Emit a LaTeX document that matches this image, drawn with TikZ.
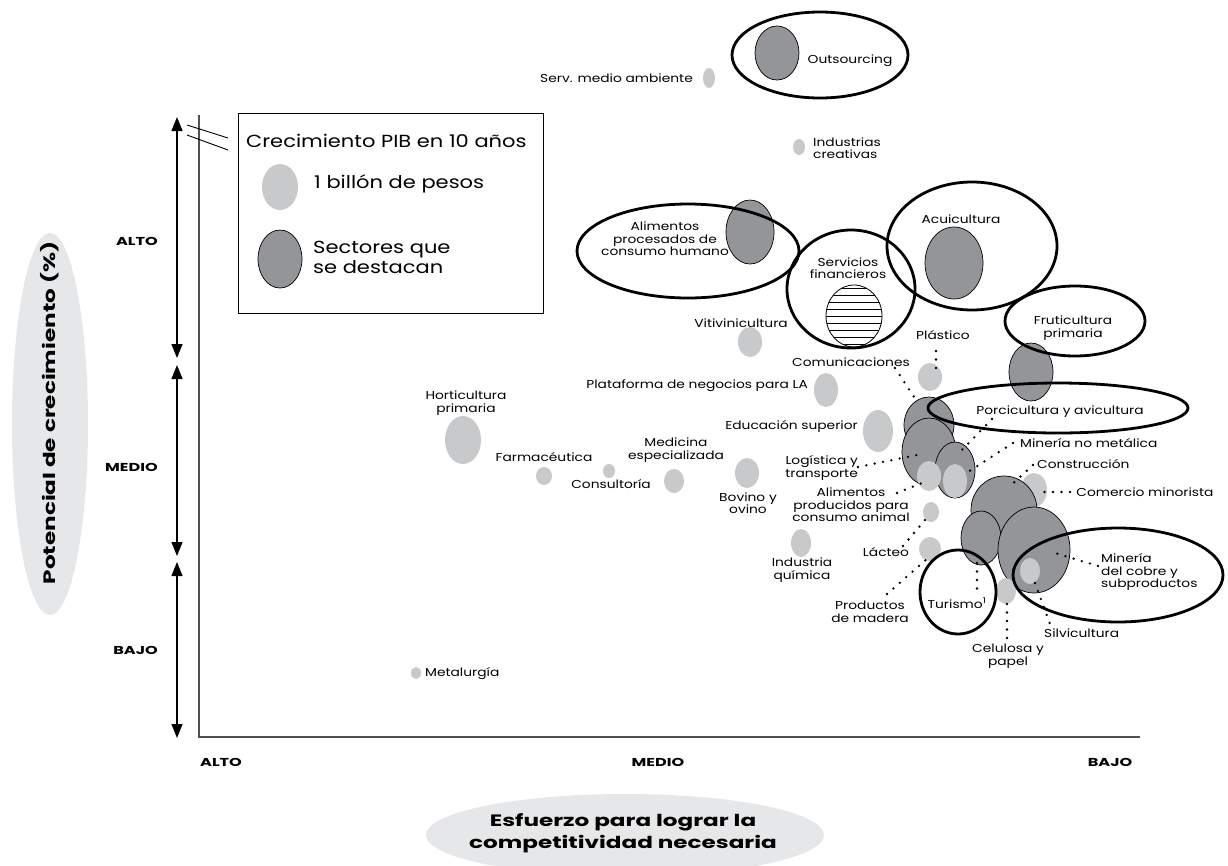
\documentclass[tikz,border=0pt]{standalone}
\usepackage{fontspec}
\setmainfont[FakeStretch=1.2]{Poppins}
\newfontfamily\widefont[FakeStretch=1.4]{Poppins}
\usetikzlibrary{shapes.geometric,arrows.meta}
\definecolor{lightg}{RGB}{200,201,203}
\definecolor{darkg}{RGB}{147,149,152}
\definecolor{paleg}{RGB}{230,231,232}
\definecolor{axisg}{RGB}{80,80,80}
\tikzset{
 lb/.style={ellipse, fill=lightg, draw=none, inner sep=0pt},
 db/.style={ellipse, fill=darkg, draw=black, line width=0.7pt, inner sep=0pt},
 ring/.style={ellipse, draw=black, line width=2.8pt, inner sep=0pt},
 hatchb/.style={ellipse, fill=white, draw=black, line width=0.8pt, inner sep=0pt,
   path picture={\foreach \k in {-4,...,4}
     \draw[line width=0.7pt] ([yshift=\k*7pt]path picture bounding box.west) -- ([yshift=\k*7pt]path picture bounding box.east);}},
 lbl/.style={font=\fontsize{11.5}{12.5}\selectfont, inner sep=0pt, align=center},
 leg/.style={font=\fontsize{17.5}{20}\selectfont, inner sep=0pt, align=left},
 lead/.style={line width=2.6pt, line cap=round, dash pattern=on 0pt off 8.5pt, black},
 axlbl/.style={font=\widefont\bfseries\fontsize{11.5}{12}\selectfont, inner sep=0pt},
 ttl/.style={font=\widefont\bfseries\fontsize{16.5}{22}\selectfont, inner sep=0pt, align=center},
 dbl/.style={line width=1.2pt, black, {Triangle[length=14pt,width=11pt]}-{Triangle[length=14pt,width=11pt]}},
}
\newcommand\bub[6]{\node[#6, minimum width={2*#4pt}, minimum height={2*#5pt}] (#1) at (#2,#3) {};}
\begin{document}
\begin{tikzpicture}[x=1pt,y=-1pt]
\useasboundingbox (0,0) rectangle (1228,865);
% axis titles
\bub{yttl}{50}{424}{38}{191}{fill=paleg,ellipse,inner sep=0pt}
\node[ttl, rotate=90] (ytxt) at (50,413) {Potencial de crecimiento (\%)};
\bub{xttl}{625}{835}{199}{41}{fill=paleg,ellipse,inner sep=0pt}
\node[ttl] (xtxt) at (623,833) {Esfuerzo para lograr la\\competitividad necesaria};
% axes
\coordinate (axtop) at (199,115);
\coordinate (ax0) at (199,737);
\coordinate (axr) at (1140,737);
\draw[axisg, line width=1.3pt] (axtop) -- (ax0) -- (axr);
\coordinate (br1a) at (187,125); \coordinate (br1b) at (228,138);
\coordinate (br2a) at (187,135); \coordinate (br2b) at (228,150);
\draw[line width=0.9pt] (br1a) -- (br1b) (br2a) -- (br2b);
\coordinate (a1) at (177,117); \coordinate (a2) at (177,358);
\coordinate (a3) at (177,365); \coordinate (a4) at (177,556);
\coordinate (a5) at (177,562); \coordinate (a6) at (177,738);
\draw[dbl] (a1) -- (a2);
\draw[dbl] (a3) -- (a4);
\draw[dbl] (a5) -- (a6);
\node[axlbl, anchor=east] (yalto) at (158,241) {ALTO};
\node[axlbl, anchor=east] (ymedio) at (158,467) {MEDIO};
\node[axlbl, anchor=east] (ybajo) at (158,650) {BAJO};
\node[axlbl] (xalto) at (221,762) {ALTO};
\node[axlbl] (xmedio) at (658,762) {MEDIO};
\node[axlbl] (xbajo) at (1110,762) {BAJO};
% legend
\node[draw, line width=1pt, minimum width=305pt, minimum height=200pt, inner sep=0pt, anchor=north west] (legend) at (238,113) {};
\node[leg, anchor=west] (legt) at (246,141) {Crecimiento PIB en 10 años};
\bub{legL}{280}{187}{18}{23}{lb}
\bub{legD}{280}{259}{22}{29}{db}
\node[leg, anchor=west] (legLt) at (314,184) {1 billón de pesos};
\node[leg, anchor=west] (legDt) at (313,257) {Sectores que\\se destacan};
% light bubbles
\bub{serv}{709}{78}{6}{10}{lb}
\bub{indcre}{799}{147}{6}{8}{lb}
\bub{viti}{750}{342}{12}{15}{lb}
\bub{plast}{930}{377}{12}{14}{lb}
\bub{plat}{826}{390}{12}{17}{lb}
\bub{edu}{878}{431}{15}{21}{lb}
\bub{horti}{463}{440}{18}{24}{lb}
\bub{farma}{544}{476}{8}{9}{lb}
\bub{consult}{609}{471}{6}{7}{lb}
\bub{medic}{674}{481}{10}{12}{lb}
\bub{bovino}{747}{473}{12}{15}{lb}
\bub{indq}{801}{543}{10}{14}{lb}
\bub{metal}{416}{673}{5}{6}{lb}
\bub{alanim}{931}{512}{8}{10}{lb}
\bub{lacteo}{930}{549}{11}{12}{lb}
\bub{comerc}{1034}{490}{13}{17}{lb}
% dark bubbles
\bub{outs}{777}{53}{22}{27}{db}
\bub{alproc}{750}{232}{24}{32}{db}
\bub{acui}{954}{263}{29}{36}{db}
\bub{fruti}{1031}{372}{22}{29}{db}
\bub{porc}{929}{425}{25}{28}{db}
\bub{logis}{929}{452}{27}{34}{db}
\bub{minnm}{955}{470}{20}{28}{db}
\bub{constr}{1004}{510}{33}{34}{db}
\bub{turdk}{981}{538}{20}{27}{db}
\bub{cobre}{1034}{550}{36}{43}{db}
\bub{logL}{929}{476}{12}{15}{lb}
\bub{minL}{955}{481}{12}{17}{lb}
\bub{cobreL}{1030}{571}{10}{13}{lb}
\bub{celul}{1006}{591}{10}{13}{lb}
\bub{finan}{854}{316}{28}{31}{hatchb}
% rings
\bub{outsR}{820}{55}{88}{43}{ring}
\bub{alprocR}{688}{251}{111}{47}{ring}
\bub{servR}{851}{289}{64}{59}{ring}
\bub{acuiR}{972}{246}{85}{64}{ring}
\bub{frutiR}{1075}{321}{70}{35}{ring}
\bub{porcR}{1058}{408}{130}{25}{ring}
\bub{turR}{958}{592}{38}{42}{ring}
\bub{cobreR}{1118}{575}{105}{47}{ring}
% labels
\node[lbl, anchor=east] (tserv) at (693,78) {Serv. medio ambiente};
\node[lbl] (touts) at (850,61) {Outsourcing};
\node[lbl, anchor=west, align=left] (tindcre) at (813,148) {Industrias\\creativas};
\node[lbl] (talproc) at (665,239) {Alimentos\\procesados de\\consumo humano};
\node[lbl] (tfinan) at (848,268) {Servicios\\financieros};
\node[lbl] (tacui) at (961,219) {Acuicultura};
\node[lbl] (tfruti) at (1073,328) {Fruticultura\\primaria};
\node[lbl] (tviti) at (741,323) {Vitivinicultura};
\node[lbl] (tplast) at (943,335) {Plástico};
\node[lbl] (tcomun) at (851,362) {Comunicaciones};
\node[lbl, anchor=east] (tplat) at (808,386) {Plataforma de negocios para LA};
\node[lbl] (tporc) at (1060,412) {Porcicultura y avicultura};
\node[lbl, anchor=east] (tedu) at (858,426) {Educación superior};
\node[lbl] (thorti) at (466,403) {Horticultura\\primaria};
\node[lbl, anchor=west] (tminnm) at (1020,443) {Minería no metálica};
\node[lbl] (tmedic) at (676,450) {Medicina\\especializada};
\node[lbl] (tfarma) at (544,457) {Farmacéutica};
\node[lbl, anchor=east, align=right] (tlogis) at (858,468) {Logística y\\transporte};
\node[lbl, anchor=west] (tconstr) at (1037,464) {Construcción};
\node[lbl] (tconsult) at (611,484) {Consultoría};
\node[lbl] (tcomerc) at (1145,492) {Comercio minorista};
\node[lbl] (tbovino) at (748,503) {Bovino y\\ovino};
\node[lbl] (talanim) at (851,505) {Alimentos\\producidos para\\consumo animal};
\node[lbl] (tlacteo) at (886,552) {Lácteo};
\node[lbl] (tindq) at (802,570) {Industria\\química};
\node[lbl, anchor=west, align=left] (tcobre) at (1101,572) {Minería\\del cobre y\\subproductos};
\node[lbl] (ttur) at (957,603) {Turismo\textsuperscript{1}};
\node[lbl] (tprod) at (870,612) {Productos\\de madera};
\node[lbl, anchor=west] (tsilv) at (1044,633) {Silvicultura};
\node[lbl] (tcelul) at (1008,656) {Celulosa y\\papel};
\node[lbl, anchor=west] (tmetal) at (425,674) {Metalurgía};
% leaders
\coordinate (l1a) at (936,351); \coordinate (l1b) at (936,368);
\coordinate (l2a) at (895,368); \coordinate (l2b) at (918,403);
\coordinate (l3a) at (858,467); \coordinate (l3b) at (917,455);
\coordinate (l4a) at (992,419); \coordinate (l4b) at (959,453);
\coordinate (l5a) at (1013,443); \coordinate (l5b) at (968,472);
\coordinate (l6a) at (897,493); \coordinate (l6b) at (922,483);
\coordinate (l7a) at (903,546); \coordinate (l7b) at (925,520);
\coordinate (l8a) at (887,594); \coordinate (l8b) at (928,558);
\coordinate (l9a) at (1033,465); \coordinate (l9b) at (1008,488);
\coordinate (l10a) at (1070,492); \coordinate (l10b) at (1043,492);
\coordinate (l11a) at (977,563); \coordinate (l11b) at (977,594);
\coordinate (l12a) at (1098,566); \coordinate (l12b) at (1055,553);
\coordinate (l13a) at (1035,583); \coordinate (l13b) at (1050,624);
\coordinate (l14a) at (1007,604); \coordinate (l14b) at (1007,641);
\foreach \i in {1,...,14} \draw[lead] (l\i a) -- (l\i b);
\end{tikzpicture}
\end{document}
